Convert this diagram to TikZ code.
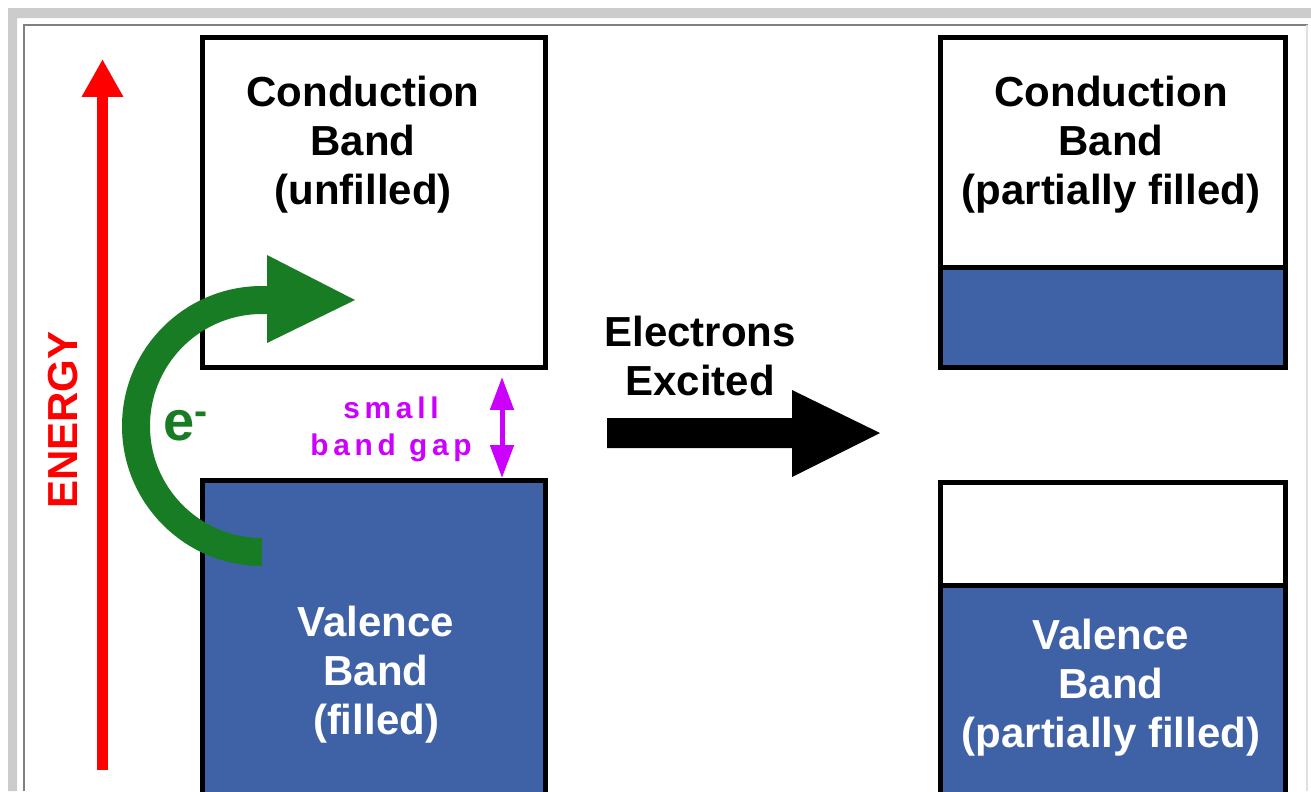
\documentclass[tikz,border=0pt]{standalone}
\usepackage{fontspec}
\setmainfont{Liberation Sans}
\usetikzlibrary{arrows.meta}
\definecolor{bandblue}{RGB}{63,98,166}
\definecolor{egreen}{RGB}{24,124,36}
\definecolor{gapmag}{RGB}{204,0,255}
\definecolor{framegray}{RGB}{204,204,204}
\definecolor{framedark}{RGB}{128,128,128}
\tikzset{
  bandbox/.style={draw=black, line width=0.1cm},
  bandtext/.style={font=\bfseries\fontsize{23.9}{27.9}\selectfont, align=center, inner sep=0pt},
}
\begin{document}
\begin{tikzpicture}[x=0.02cm,y=-0.02cm]
\clip (0,0) rectangle (1311,791);
\fill[white] (0,0) rectangle (1311,791);
% frame
\fill[framegray] (8,8) -- (1311,8) -- (1311,18) -- (17,18) -- (17,791) -- (8,791) -- cycle;
\draw[framedark, line width=0.04cm] (1308,25) -- (24,25) -- (24,791);
\draw[framegray!60, line width=0.03cm] (1307,25) -- (1307,791);

% left bands
\draw[bandbox, fill=white] (202.5,37.5) rectangle (545,367.5);
\draw[bandbox, fill=bandblue] (202.5,480.5) rectangle (545,800);

% right bands
\fill[bandblue] (940,267) rectangle (1285.5,367.5);
\draw[bandbox] (940,37.5) rectangle (1285.5,367.5);
\draw[black, line width=0.1cm] (940,267) -- (1285.5,267);
\fill[bandblue] (940,585) rectangle (1285.5,800);
\draw[bandbox] (940,482.5) rectangle (1285.5,800);
\draw[black, line width=0.1cm] (940,585) -- (1285.5,585);

% texts
\node[bandtext] (cbl) at (363,145) {Conduction\\Band\\(unfilled)};
\node[bandtext, white] (vbl) at (376,675) {Valence\\Band\\(filled)};
\node[bandtext] (cbr) at (1111,145) {Conduction\\Band\\(partially filled)};
\node[bandtext, white] (vbr) at (1111,688) {Valence\\Band\\(partially filled)};
\node[bandtext] (exc) at (700,356) {Electrons\\Excited};
\node[font=\bfseries\fontsize{23.9}{28}\selectfont, red, rotate=90, inner sep=0pt] (en) at (63,420) {ENERGY};
\node[font=\bfseries\fontsize{17}{21}\selectfont\addfontfeature{LetterSpace=16}, text=gapmag, align=center, inner sep=0pt] (gap) at (391,429) {small\\band gap};

% energy arrow
\draw[red, line width=0.22cm, -{Triangle[length=0.76cm,width=0.78cm]}] (102.5,770) -- (102.5,59);

% band gap arrow
\draw[gapmag, line width=0.1cm, {Triangle[length=0.66cm,width=0.46cm]}-{Triangle[length=0.66cm,width=0.46cm]}] (502,377) -- (502,478);

% green excitation arrow
\draw[egreen, line width=0.56cm] (262,552) arc[start angle=90, end angle=270, radius=126] -- (268,300);
\fill[egreen] (267,255) -- (355,300) -- (267,343) -- cycle;
\node[font=\bfseries\fontsize{31.9}{36}\selectfont, text=egreen, inner sep=0pt] (el) at (186,426) {e\textsuperscript{-}};

% big black arrow
\fill[black] (607,418) -- (792,418) -- (792,390) -- (880,433) -- (792,477) -- (792,448) -- (607,448) -- cycle;
\end{tikzpicture}
\end{document}
